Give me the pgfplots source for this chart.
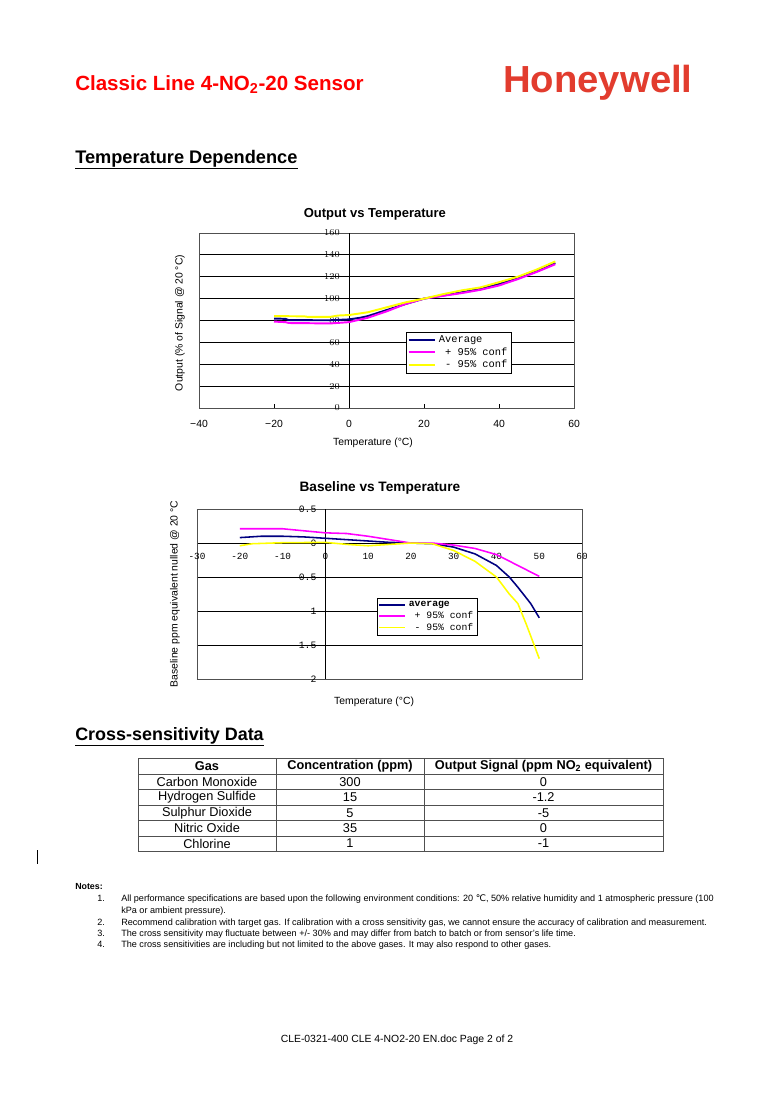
\documentclass[border=0pt]{standalone}
\usepackage{fontspec}
\setmainfont{Liberation Sans}
\setmonofont{Liberation Mono}
\newfontfamily\djv{DejaVu Sans}
\usepackage{pgfplots}
\pgfplotsset{compat=1.18}

\definecolor{hwred}{RGB}{226,60,46}
\definecolor{avgblue}{RGB}{0,0,128}
\definecolor{confpink}{RGB}{255,0,255}
\definecolor{confyellow}{RGB}{255,255,0}
\definecolor{frame}{RGB}{80,80,80}

\begin{document}
\begin{tikzpicture}[x=0.769pt,y=-0.769pt]
\path[use as bounding box, fill=white] (0,0) rectangle (774,1095);

% page header
\node[anchor=base west, inner sep=0pt, text=red, font=\bfseries\fontsize{15.8}{19}\selectfont]
  at (75,90) {Classic Line 4-NO\textsubscript{2}-20 Sensor};
\node[anchor=base west, inner sep=0pt, text=hwred, font=\bfseries\fontsize{29}{31}\selectfont]
  at (503,92) {\scalebox{1.015}[1]{Honeywell}};
\node[anchor=base west, inner sep=0pt, font=\bfseries\fontsize{14}{16}\selectfont]
  at (75,163) {\underline{Temperature Dependence}};

% output vs temperature
\begin{axis}[
  at={(153.03pt,-313.75pt)}, anchor=south west, scale only axis,
  width=288.4pt, height=134.6pt,
  xmin=-40, xmax=60, ymin=0, ymax=160,
  xtick={-40,-20,...,60},
  xticklabels={−40,−20,0,20,40,60},
  ytick={0,20,...,160},
  ymajorgrids, grid style={black, line width=0.6pt},
  extra x ticks={0}, extra x tick labels={},
  extra x tick style={grid=major, major tick length=0pt},
  axis line style={frame, line width=0.6pt},
  xtick pos=bottom, xtick align=inside, major tick length=3pt,
  x tick style={black}, ytick style={draw=none},
  xticklabel style={font=\fontsize{8}{9}\selectfont, anchor=north, inner sep=0pt, yshift=-9pt},
  yticklabel style={font=\ttfamily\fontsize{7.3}{8}\selectfont, anchor=east, inner sep=0pt, xshift=108.4pt},
  title={Output vs Temperature},
  title style={at={(0.469,1.063)}, anchor=center, font=\bfseries\fontsize{10}{12}\selectfont},
  xlabel={Temperature (°C)},
  xlabel style={at={(0.464,-0.2)}, anchor=center, font=\fontsize{8}{9}\selectfont},
  ylabel={Output (\% of Signal @ 20 °C)},
  ylabel style={at={(-0.0507,0.486)}, anchor=center, font=\fontsize{8}{9}\selectfont},
  legend style={at={(axis cs:15.2,69.5)}, anchor=north west, draw=black, fill=white,
    font=\ttfamily\fontsize{8}{9}\selectfont, inner xsep=1pt, inner ysep=0.5pt,
    row sep=-1.5pt, cells={anchor=west}},
  legend image code/.code={\draw[#1] (0pt,0pt) -- (20.5pt,0pt);},
]
\addplot[avgblue, line width=1.5pt] coordinates {
  (-20,81.8) (-17,81.5) (-16,80.3) (-5,80.2) (0,81) (3,82.5) (5,84) (10,89.5)
  (15,95) (20,100) (25,102.8) (30,105.8) (35,109) (40,113.4) (45,118.8) (50,125.3) (55,132.6)
};
\addplot[confpink, line width=1.5pt] coordinates {
  (-20,79) (-17,78.5) (-16,77.7) (-5,77.3) (0,78.5) (5,82.5) (10,88.3)
  (15,95) (20,100) (25,102.5) (30,105) (35,108) (40,112) (45,117.8) (50,124.3) (55,131.4)
};
\addplot[confyellow, line width=1.5pt] coordinates {
  (-20,84) (-12,83.8) (-11,83.3) (-5,83.3) (-3,84.5) (0,85) (5,87.5) (10,92)
  (15,96.5) (20,100) (25,104) (30,107.5) (35,110.2) (40,115) (45,120) (50,126.5) (55,134)
};
\legend{Average,\hphantom{0}+ 95\% conf,\hphantom{0}- 95\% conf}
\end{axis}

% baseline vs temperature
\begin{axis}[
  at={(151.49pt,-522.15pt)}, anchor=south west, scale only axis,
  width=296.1pt, height=130.7pt,
  xmin=-30, xmax=60, ymin=-2, ymax=0.5,
  xtick={-30,-20,...,60},
  xticklabels={-30,-20,-10,0,10,20,30,40,50,60},
  ytick={-2,-1.5,-1,-0.5,0,0.5},
  yticklabels={2,1.5,1,0.5,0,0.5},
  ymajorgrids, grid style={black, line width=0.6pt},
  extra x ticks={0}, extra x tick labels={},
  extra x tick style={grid=major},
  axis line style={frame, line width=0.6pt},
  major tick length=0pt,
  xticklabel style={font=\ttfamily\fontsize{7.2}{8}\selectfont, anchor=north, inner sep=0pt, yshift=96.9pt},
  yticklabel style={font=\ttfamily\fontsize{7.5}{8}\selectfont, anchor=east, inner sep=0pt, xshift=92pt},
  title={Baseline vs Temperature},
  title style={at={(0.475,1.076)}, anchor=center, font=\bfseries\fontsize{10.5}{12}\selectfont},
  xlabel={Temperature (°C)},
  xlabel style={at={(0.46,-0.135)}, anchor=center, font=\fontsize{8}{9}\selectfont},
  ylabel={Baseline ppm equivalent nulled @ 20 °C},
  ylabel style={at={(-0.057,0.5)}, anchor=center, font=\fontsize{8}{9}\selectfont},
  legend style={at={(axis cs:12.1,-0.809)}, anchor=north west, draw=black, fill=white,
    font=\ttfamily\fontsize{7.5}{8}\selectfont, inner xsep=1pt, inner ysep=0.5pt,
    row sep=-2pt, cells={anchor=west}},
  legend image code/.code={\draw[#1] (0pt,0pt) -- (20pt,0pt);},
]
\addplot[avgblue, line width=1.2pt] coordinates {
  (-20,0.08) (-15,0.1) (-10,0.1) (-5,0.09) (0,0.07) (5,0.05) (10,0.03) (15,0.01)
  (20,0) (25,-0.01) (30,-0.06) (35,-0.16) (40,-0.33) (43,-0.5) (45,-0.65) (48,-0.89) (50,-1.1)
};
\addplot[confpink, line width=1.2pt] coordinates {
  (-20,0.21) (-10,0.21) (-5,0.18) (0,0.15) (5,0.14) (10,0.1) (15,0.05)
  (20,0) (25,0) (30,-0.03) (35,-0.08) (40,-0.17) (45,-0.33) (50,-0.49)
};
\addplot[confyellow, line width=1.2pt] coordinates {
  (-20,-0.04) (-17,-0.01) (-10,0.005) (0,0.01) (5,-0.02) (10,-0.04) (15,-0.02)
  (20,0) (25,-0.01) (30,-0.11) (35,-0.27) (40,-0.5) (43,-0.75) (45,-0.89) (47,-1.2) (50,-1.7)
};
\legend{\textbf{average},\hphantom{0}+ 95\% conf,\hphantom{0}- 95\% conf}
\end{axis}

% cross-sensitivity table
\node[anchor=base west, inner sep=0pt, font=\bfseries\fontsize{13.8}{16}\selectfont]
  at (75,740) {\underline{Cross-sensitivity Data}};
\draw[frame, line width=0.6pt] (138,758.5) rectangle (663,851);
\foreach \yy in {774,789.5,805,820.5,836} \draw[frame, line width=0.6pt] (138,\yy) -- (663,\yy);
\foreach \xx in {276,424} \draw[frame, line width=0.6pt] (\xx,758.5) -- (\xx,851);
\begin{scope}[every node/.style={inner sep=0pt, anchor=center, font=\fontsize{9.8}{11}\selectfont}]
\node[font=\bfseries\fontsize{9.8}{11}\selectfont] at (207,766.3) {Gas};
\node[font=\bfseries\fontsize{9.8}{11}\selectfont] at (350,766.3) {Concentration (ppm)};
\node[font=\bfseries\fontsize{9.8}{11}\selectfont] at (543.5,766.3) {Output Signal (ppm NO\textsubscript{2} equivalent)};
\node at (207,781.8) {Carbon Monoxide};  \node at (350,781.8) {300}; \node at (543.5,781.8) {0};
\node at (207,797.3) {Hydrogen Sulfide}; \node at (350,797.3) {15};  \node at (543.5,797.3) {-1.2};
\node at (207,812.8) {Sulphur Dioxide};  \node at (350,812.8) {5};   \node at (543.5,812.8) {-5};
\node at (207,828.3) {Nitric Oxide};     \node at (350,828.3) {35};  \node at (543.5,828.3) {0};
\node at (207,843.6) {Chlorine};         \node at (350,843.6) {1};   \node at (543.5,843.6) {-1};
\end{scope}
\draw[line width=0.6pt] (37,850) -- (37,864);

% notes
\begin{scope}[every node/.style={inner sep=0pt, anchor=base west, font=\fontsize{7}{8}\selectfont}]
\node[font=\bfseries\fontsize{6.8}{8}\selectfont] at (75,889) {Notes:};
\node at (97,901.5) {1.};
\node at (121,901.5) {All performance specifications are based upon the following environment conditions: 20 {\djv ℃}, 50\% relative humidity and 1 atmospheric pressure (100};
\node at (121,913.5) {kPa or ambient pressure).};
\node at (97,925.5) {2.};
\node at (121,925.5) {Recommend calibration with target gas. If calibration with a cross sensitivity gas, we cannot ensure the accuracy of calibration and measurement.};
\node at (97,936.5) {3.};
\node at (121,936.5) {The cross sensitivity may fluctuate between +/- 30\% and may differ from batch to batch or from sensor's life time.};
\node at (97,947.5) {4.};
\node at (121,947.5) {The cross sensitivities are including but not limited to the above gases. It may also respond to other gases.};
\end{scope}

\node[inner sep=0pt, anchor=center, font=\fontsize{8}{9}\selectfont] at (397,1040)
  {CLE-0321-400 CLE 4-NO2-20 EN.doc Page 2 of 2};
\end{tikzpicture}
\end{document}
